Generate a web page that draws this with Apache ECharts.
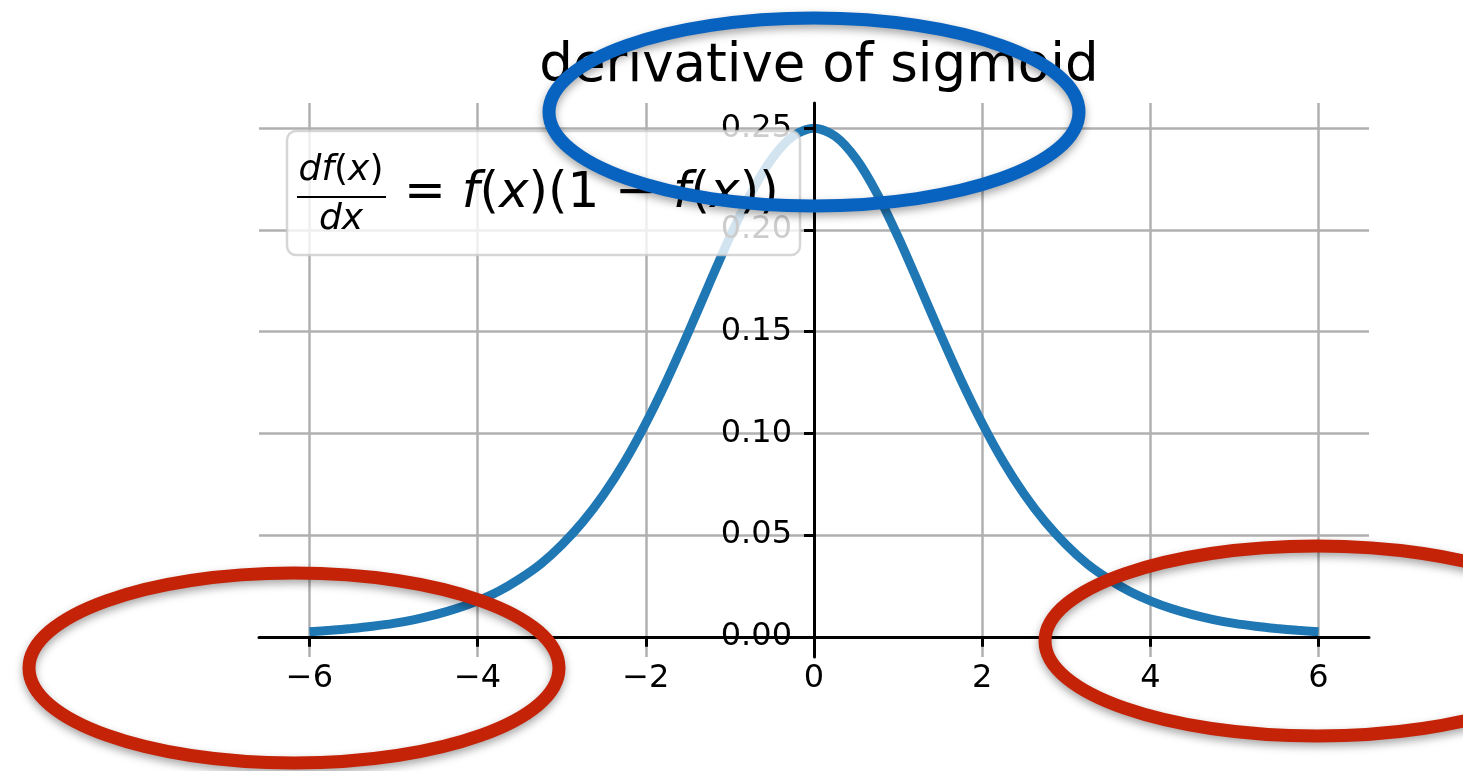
<!DOCTYPE html>
<html>
<head>
<meta charset="utf-8">
<title>derivative of sigmoid</title>
<script src="https://cdn.jsdelivr.net/npm/echarts@6/dist/echarts.min.js"></script>
<style>
  html, body { margin: 0; padding: 0; background: #ffffff; }
  #chart { width: 1463px; height: 771px; }
</style>
</head>
<body>
<div id="chart"></div>
<script>
// Sampled curve: x positions and the derivative value at each one
const xValues = [-6, -5.75, -5.5, -5.25, -5, -4.75, -4.5, -4.25, -4, -3.75, -3.5, -3.25, -3,
                 -2.75, -2.5, -2.25, -2, -1.75, -1.5, -1.25, -1, -0.75, -0.5, -0.25, 0,
                 0.25, 0.5, 0.75, 1, 1.25, 1.5, 1.75, 2, 2.25, 2.5, 2.75, 3,
                 3.25, 3.5, 3.75, 4, 4.25, 4.5, 4.75, 5, 5.25, 5.5, 5.75, 6];
const yValues = [0.0025, 0.0032, 0.0041, 0.0052, 0.0066, 0.0085, 0.0109, 0.0139, 0.0177, 0.0224, 0.0285, 0.0358, 0.0452,
                 0.0565, 0.0701, 0.0862, 0.1050, 0.1261, 0.1491, 0.1731, 0.1966, 0.2179, 0.2350, 0.2461, 0.2500,
                 0.2461, 0.2350, 0.2179, 0.1966, 0.1731, 0.1491, 0.1261, 0.1050, 0.0862, 0.0701, 0.0565, 0.0452,
                 0.0358, 0.0285, 0.0224, 0.0177, 0.0139, 0.0109, 0.0085, 0.0066, 0.0052, 0.0041, 0.0032, 0.0025];

// Tick positions on both axes
const xTicks = [-6, -4, -2, 0, 2, 4, 6];
const yTicks = [0.00, 0.05, 0.10, 0.15, 0.20, 0.25];

// Axis extents (data range plus a 5% margin)
const xRange = [-6.6, 6.6];
const yRange = [-0.0099, 0.2624];

const titleText = 'derivative of sigmoid';

const FONT = "'DejaVu Sans', 'Liberation Sans', sans-serif";
const curvePoints = xValues.map((x, i) => [x, yValues[i]]);

const fmtX = v => (v < 0 ? '\u2212' + Math.abs(v) : String(v));
const fmtY = v => v.toFixed(2);

// Plot area in pixels
const GRID = { left: 259, right: 94, top: 103, bottom: 114 };
const W = 1463, H = 771;
const plotW = W - GRID.left - GRID.right;
const plotH = H - GRID.top - GRID.bottom;
// Distance from the left / bottom plot edge to the zero line, so the spines cross at the origin
const xZeroShift = (0 - xRange[0]) / (xRange[1] - xRange[0]) * plotW;
const yZeroShift = (0 - yRange[0]) / (yRange[1] - yRange[0]) * plotH;

// Grid-line-only axes (drawn beneath the curve)
const gridAxis = (range, ticks, pos) => ({
  type: 'value',
  position: pos,
  min: range[0],
  max: range[1],
  z: 0,
  axisLine: { show: false, onZero: false },
  axisTick: { show: false, customValues: ticks },
  axisLabel: { show: false, customValues: ticks },
  splitLine: { show: true, lineStyle: { color: '#b0b0b0', width: 2.5 } }
});

// Spine axes shifted onto the zero lines (drawn above the curve)
const spineAxis = (range, ticks, fmt, margin, pos, shift) => ({
  type: 'value',
  position: pos,
  offset: -shift,
  min: range[0],
  max: range[1],
  z: 5,
  axisLine: { show: true, onZero: false, lineStyle: { color: '#000000', width: 3 } },
  axisTick: { show: true, inside: false, length: 10, customValues: ticks,
              lineStyle: { color: '#000000', width: 3 } },
  axisLabel: { show: true, customValues: ticks, formatter: fmt, margin: margin,
               color: '#000000', fontSize: 32, fontFamily: FONT },
  splitLine: { show: false }
});

const chart = echarts.init(document.getElementById('chart'), null, { renderer: 'canvas' });

const ellipseStyle = color => ({
  fill: 'none',
  stroke: color,
  lineWidth: 13,
  shadowColor: 'rgba(0,0,0,0.35)',
  shadowBlur: 8,
  shadowOffsetY: 4
});

const LEGEND_Z = 100;
const RING_Z = 200;

chart.setOption({
  backgroundColor: '#ffffff',
  animation: false,
  title: {
    text: titleText,
    left: 814,
    textAlign: 'center',
    top: 36,
    textStyle: { fontFamily: FONT, fontSize: 53, fontWeight: 'normal', color: '#000000' }
  },
  grid: { left: GRID.left, right: GRID.right, top: GRID.top, bottom: GRID.bottom, containLabel: false },
  xAxis: [gridAxis(xRange, xTicks, 'bottom'),
          spineAxis(xRange, xTicks, fmtX, 26, 'bottom', yZeroShift)],
  yAxis: [gridAxis(yRange, yTicks, 'left'),
          spineAxis(yRange, yTicks, fmtY, 22, 'left', xZeroShift)],
  series: [{
    type: 'line',
    xAxisIndex: 0,
    yAxisIndex: 0,
    data: curvePoints,
    smooth: 0.3,
    showSymbol: false,
    z: 2,
    lineStyle: { color: '#1f77b4', width: 9, cap: 'butt' }
  }],
  graphic: [
    // legend box with the formula (semi-transparent, over the plot)
    {
      type: 'rect',
      z: LEGEND_Z,
      shape: { x: 287, y: 131, width: 513, height: 124, r: 9 },
      style: { fill: 'rgba(255,255,255,0.8)', stroke: 'rgba(204,204,204,0.8)', lineWidth: 2.5 }
    },
    {
      type: 'text',
      z: LEGEND_Z + 1,
      style: {
        x: 341, y: 171,
        text: '{i|df}{u|(}{i|x}{u|)}',
        align: 'center', verticalAlign: 'middle',
        rich: {
          i: { fontFamily: FONT, fontSize: 36, fontStyle: 'italic', fill: '#000' },
          u: { fontFamily: FONT, fontSize: 36, fill: '#000' }
        }
      }
    },
    {
      type: 'line',
      z: LEGEND_Z + 1,
      shape: { x1: 297, y1: 197, x2: 386, y2: 197 },
      style: { stroke: '#000000', lineWidth: 2 }
    },
    {
      type: 'text',
      z: LEGEND_Z + 1,
      style: {
        x: 341, y: 220,
        text: 'dx',
        align: 'center', verticalAlign: 'middle',
        fontFamily: FONT, fontSize: 36, fontStyle: 'italic', fill: '#000'
      }
    },
    {
      type: 'text',
      z: LEGEND_Z + 1,
      style: {
        x: 404, y: 194,
        text: '{u|= }{i|f}{u|(}{i|x}{u|)(1 \u2212 }{i|f}{u|(}{i|x}{u|))}',
        align: 'left', verticalAlign: 'middle',
        rich: {
          i: { fontFamily: FONT, fontSize: 50, fontStyle: 'italic', fill: '#000' },
          u: { fontFamily: FONT, fontSize: 50, fill: '#000' }
        }
      }
    },
    // highlight rings
    { type: 'ellipse', z: RING_Z, shape: { cx: 814, cy: 112, rx: 265, ry: 94 }, style: ellipseStyle('#0863c0') },
    { type: 'ellipse', z: RING_Z, shape: { cx: 294, cy: 668, rx: 265, ry: 95 }, style: ellipseStyle('#c42308') },
    { type: 'ellipse', z: RING_Z, shape: { cx: 1317, cy: 641, rx: 272, ry: 95 }, style: ellipseStyle('#c42308') }
  ]
});
</script>
</body>
</html>
